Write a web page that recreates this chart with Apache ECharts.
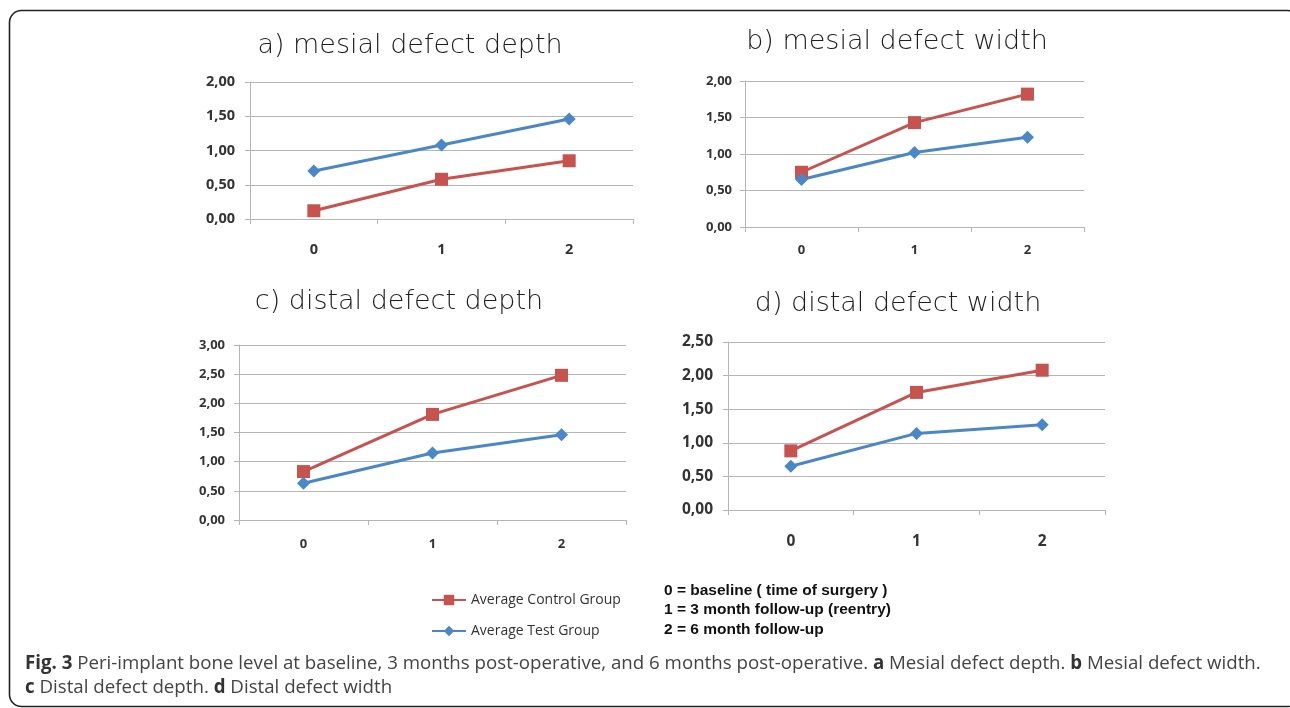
<!DOCTYPE html>
<html>
<head>
<meta charset="utf-8">
<script src="https://cdn.jsdelivr.net/npm/echarts@6/dist/echarts.min.js"></script>
<style>
html,body{margin:0;padding:0;background:#fff;}
#c{width:1290px;height:708px;}
</style>
</head>
<body>
<div id="c"></div>
<script>
// ---- data ----
const categories = ['0', '1', '2'];
const panelTitles = ['a) mesial defect depth', 'b) mesial defect width', 'c) distal defect depth', 'd) distal defect width'];
const controlA = [0.12, 0.58, 0.85];
const testA    = [0.70, 1.08, 1.46];
const controlB = [0.75, 1.43, 1.82];
const testB    = [0.65, 1.02, 1.23];
const controlC = [0.83, 1.81, 2.48];
const testC    = [0.63, 1.15, 1.46];
const controlD = [0.88, 1.75, 2.08];
const testD    = [0.65, 1.14, 1.27];
const yMaxes   = [2.0, 2.0, 3.0, 2.5];
const yStep    = 0.5;
const seriesNames = ['Average Control Group', 'Average Test Group'];
const noteLines = ['0 = baseline ( time of surgery )', '1 = 3 month follow-up (reentry)', '2 = 6 month follow-up'];
const captionLine1 = ['Fig. 3', ' Peri-implant bone level at baseline, 3 months post-operative, and 6 months post-operative. ', 'a', ' Mesial defect depth. ', 'b', ' Mesial defect width.'];
const captionLine2 = ['c', ' Distal defect depth. ', 'd', ' Distal defect width'];

const controlData = [controlA, controlB, controlC, controlD];
const testData = [testA, testB, testC, testD];

// ---- layout ----
const grids = [
  {left: 250, top: 82, width: 383, height: 137},
  {left: 745, top: 81, width: 339, height: 146},
  {left: 239, top: 345, width: 387, height: 175},
  {left: 728, top: 342, width: 377, height: 168}
];
const xMargins = [23, 17, 18, 24];
const yMargins = [15, 13, 14, 15];
const labelSizes = [14.5, 13, 13, 15.5];
const titlePos = [[410, 46], [897, 42], [399, 302], [898, 304]];

const RED = '#C8524E';
const BLUE = '#4A87C6';
const AXIS = '#b5b5b5';

const xAxis = [], yAxis = [], series = [], graphic = [];
grids.forEach((g, i) => {
  xAxis.push({
    type: 'category', gridIndex: i, data: categories, boundaryGap: true,
    axisLine: {lineStyle: {color: AXIS, width: 1}},
    axisTick: {show: true, length: 5, inside: false, lineStyle: {color: AXIS}},
    axisLabel: {color: '#333', fontSize: labelSizes[i], fontWeight: 'bold', fontFamily: 'Open Sans', margin: xMargins[i]},
    splitLine: {show: false}
  });
  yAxis.push({
    type: 'value', gridIndex: i, min: 0, max: yMaxes[i], interval: yStep,
    axisLine: {show: true, lineStyle: {color: AXIS, width: 1}},
    axisTick: {show: true, length: 5, lineStyle: {color: AXIS}},
    axisLabel: {color: '#333', fontSize: labelSizes[i], fontWeight: 'bold', fontFamily: 'Open Sans', margin: yMargins[i],
      formatter: v => v.toFixed(2).replace('.', ',')},
    splitLine: {show: true, lineStyle: {color: AXIS, width: 1}}
  });
  series.push({
    name: seriesNames[0], type: 'line', xAxisIndex: i, yAxisIndex: i, data: controlData[i],
    symbol: 'rect', symbolSize: 13, color: RED,
    lineStyle: {color: RED, width: 3}, itemStyle: {color: RED}, z: 3
  });
  series.push({
    name: seriesNames[1], type: 'line', xAxisIndex: i, yAxisIndex: i, data: testData[i],
    symbol: 'diamond', symbolSize: 13, color: BLUE,
    lineStyle: {color: BLUE, width: 3}, itemStyle: {color: BLUE}, z: 3
  });
  graphic.push({
    type: 'text', x: titlePos[i][0], y: titlePos[i][1],
    style: {text: panelTitles[i], fill: '#1e1e1e', fontSize: 27, fontFamily: 'DejaVu Sans', fontWeight: 300,
      align: 'center', verticalAlign: 'middle'}
  });
});

// frame
graphic.push({
  type: 'rect', shape: {x: 9.5, y: 10.5, width: 1290, height: 696, r: 12},
  style: {fill: 'none', stroke: '#222', lineWidth: 1.6}, z: -1
});

// note lines
noteLines.forEach((t, k) => {
  graphic.push({
    type: 'text', x: 664, y: 591 + k * 19.2,
    style: {text: t, fill: '#111', fontSize: 15.5, fontWeight: 'bold', fontFamily: 'Liberation Sans', verticalAlign: 'middle'}
  });
});

// caption
function richLine(parts) {
  return parts.map((p, j) => (j % 2 === 0 ? '{b|' : '{n|') + p + '}').join('');
}
const rich = {
  b: {fontWeight: 'bold', fill: '#333', color: '#333', fontSize: 18.7, fontFamily: 'Open Sans'},
  n: {fontWeight: 'normal', fill: '#444', color: '#444', fontSize: 18.7, fontFamily: 'Open Sans'}
};
graphic.push({
  type: 'text', x: 25, y: 664,
  style: {text: richLine(captionLine1), rich: rich, verticalAlign: 'middle'}
});
graphic.push({
  type: 'text', x: 25, y: 688,
  style: {text: richLine(captionLine2), rich: rich, verticalAlign: 'middle'}
});

const chart = echarts.init(document.getElementById('c'), null, {renderer: 'canvas'});
chart.setOption({
  animation: false,
  backgroundColor: '#fff',
  grid: grids.map(g => Object.assign({containLabel: false}, g)),
  xAxis: xAxis,
  yAxis: yAxis,
  series: series,
  legend: {
    data: seriesNames, orient: 'vertical', left: 431, top: 593, padding: 0,
    itemWidth: 34, itemHeight: 13, itemGap: 17,
    textStyle: {color: '#333', fontSize: 14, fontFamily: 'Open Sans'}
  },
  graphic: graphic
});
</script>
</body>
</html>
